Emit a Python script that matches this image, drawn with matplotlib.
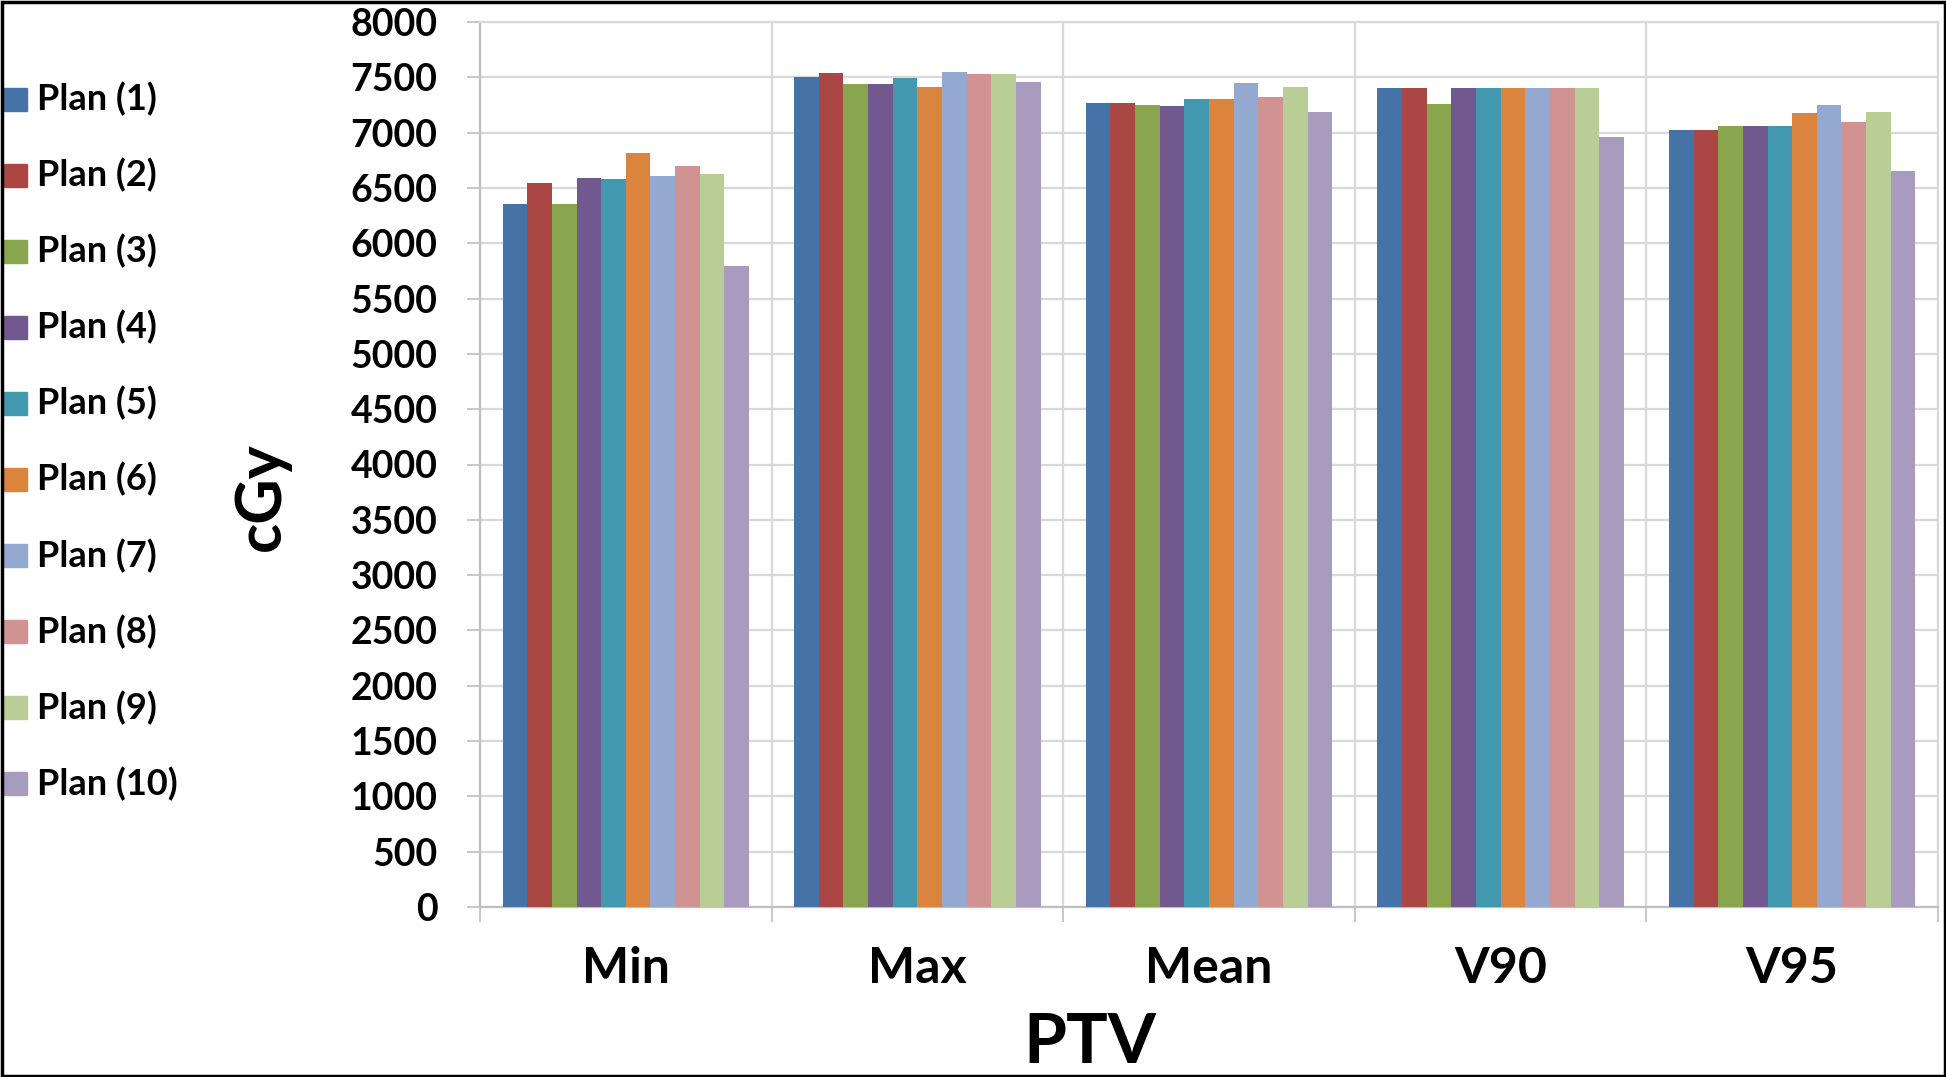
import numpy as np
import matplotlib.pyplot as plt
from matplotlib.patches import Rectangle

# categories on the x axis
categories = ["Min", "Max", "Mean", "V90", "V95"]
plans = ["Plan ({})".format(i) for i in range(1, 11)]

# dose per plan, one value per category (cGy)
plan_1 = [6355, 7500, 7272, 7400, 7020]
plan_2 = [6545, 7537, 7272, 7400, 7020]
plan_3 = [6355, 7440, 7247, 7255, 7060]
plan_4 = [6590, 7440, 7244, 7400, 7060]
plan_5 = [6578, 7497, 7303, 7400, 7060]
plan_6 = [6812, 7416, 7303, 7400, 7173]
plan_7 = [6612, 7547, 7447, 7400, 7252]
plan_8 = [6700, 7534, 7319, 7400, 7097]
plan_9 = [6630, 7534, 7412, 7400, 7185]
plan_10 = [5798, 7460, 7184, 6958, 6655]
values = [plan_1, plan_2, plan_3, plan_4, plan_5,
          plan_6, plan_7, plan_8, plan_9, plan_10]

colors = ["#4572A7", "#AA4643", "#89A54E", "#71588F", "#4198AF",
          "#DB843D", "#93A9CF", "#D19392", "#B9CD96", "#A99BBD"]

W, H = 1946, 1077
fig = plt.figure(figsize=(W / 100, H / 100), dpi=100)
ax = fig.add_axes([480 / W, 1 - 907 / H, (1938 - 480) / W, (907 - 22) / H])

font = "Lato"
grid_col = "#d9d9d9"
axis_col = "#bfbfbf"

x = np.arange(len(categories))
bar_w = 0.0845
for i, vals in enumerate(values):
    ax.bar(x + (i - 4.5) * bar_w, vals, width=bar_w, color=colors[i],
           linewidth=0, zorder=3)

ax.set_xlim(-0.5, len(categories) - 0.5)
ax.set_ylim(0, 8000)
ax.set_yticks(np.arange(0, 8001, 500))
ax.yaxis.grid(True, color=grid_col, linewidth=1.6, zorder=0)
ax.set_xticks(x)
ax.set_xticks(np.arange(-0.5, len(categories)), minor=True)
ax.xaxis.grid(True, which="minor", color=grid_col, linewidth=1.6, zorder=0)
ax.set_xticklabels(categories, fontfamily=font, fontweight="bold",
                   fontsize=36)
ax.tick_params(axis="x", which="major", length=0, pad=28)
ax.tick_params(axis="x", which="minor", length=11, width=1.2, color=axis_col)
ax.tick_params(axis="y", length=9.5, width=1.2, color=axis_col, pad=21)
for lab in ax.get_yticklabels():
    lab.set_fontfamily(font)
    lab.set_fontweight("bold")
    lab.set_fontsize(27)

for side in ["left", "bottom"]:
    ax.spines[side].set_color(axis_col)
    ax.spines[side].set_linewidth(1.6)
for side in ["top", "right"]:
    ax.spines[side].set_color(grid_col)
    ax.spines[side].set_linewidth(1.6)

# axis titles
fig.text(262 / W, 1 - 497 / H, "cGy", rotation=90, ha="center", va="center",
         fontfamily=font, fontweight="bold", fontsize=45)
fig.text(1090 / W, 1 - 1012 / H, "PTV", ha="center", va="top",
         fontfamily=font, fontweight="bold", fontsize=50)

# legend on the left side
for i, name in enumerate(plans):
    yc = 99 + 76.1 * i
    fig.patches.append(Rectangle((4 / W, 1 - (yc + 11.5) / H), 23 / W, 23 / H,
                                 transform=fig.transFigure, color=colors[i]))
    fig.text(37 / W, 1 - yc / H, name, ha="left", va="center",
             fontfamily=font, fontweight="bold", fontsize=26)

# black frame around the picture
fig.patches.append(Rectangle((1.5 / W, 1.5 / H), (W - 3) / W, (H - 3) / H,
                             transform=fig.transFigure, fill=False,
                             edgecolor="black", linewidth=2.5, zorder=10))

fig.savefig("out.png", dpi=100)
